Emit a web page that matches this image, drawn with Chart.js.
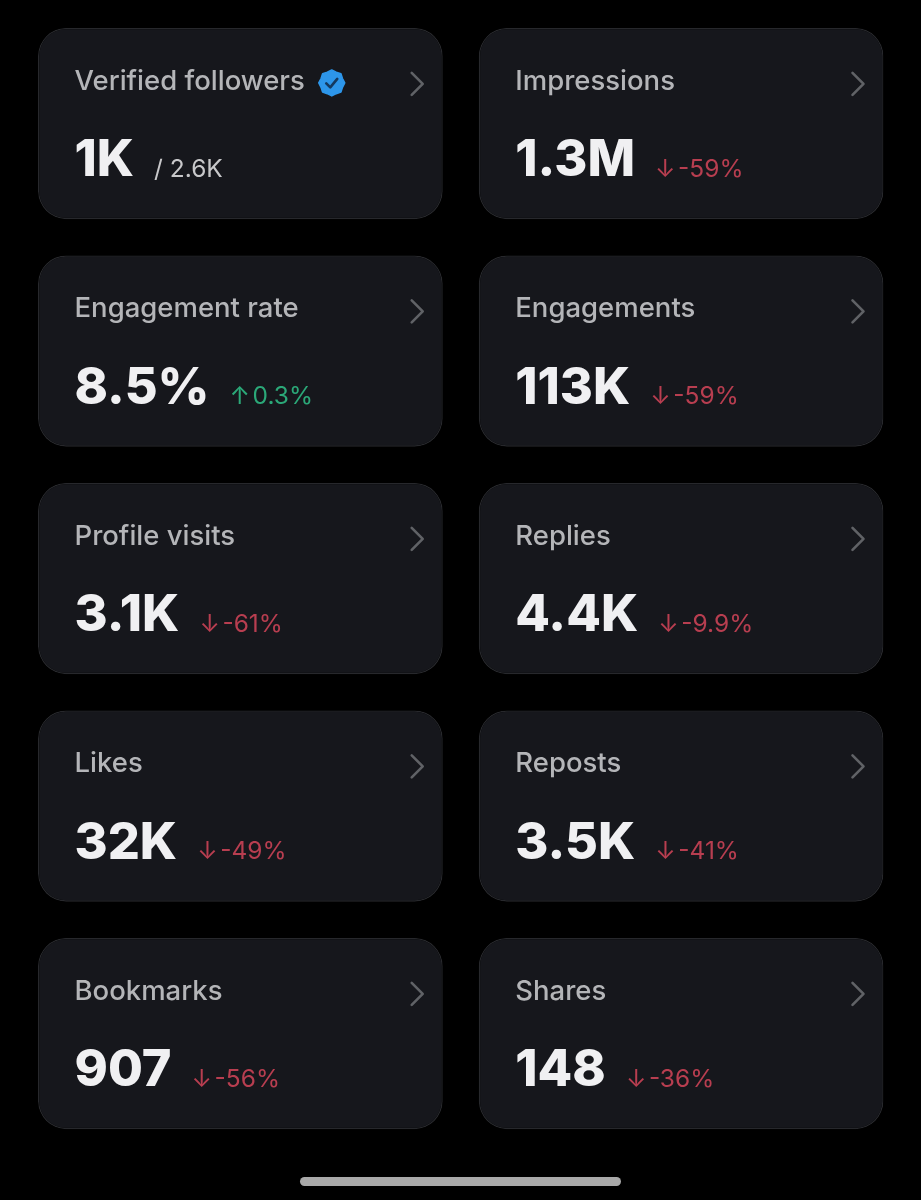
<!DOCTYPE html>
<html><head><meta charset="utf-8">
<style>html,body{margin:0;padding:0;background:#000}canvas{display:block;filter:blur(0.55px)}</style>
<script src="https://cdn.jsdelivr.net/npm/chart.js@4"></script></head>
<body><canvas id="c" width="921" height="1200"></canvas>
<script>
const rows = ['row1','row2','row3','row4','row5'];
const leftLabels = ['Verified followers','Engagement rate','Profile visits','Likes','Bookmarks'];
const leftValues = ['1K','8.5%','3.1K','32K','907'];
const leftDeltas = [null,0.3,-61,-49,-56];
const rightLabels = ['Impressions','Engagements','Replies','Reposts','Shares'];
const rightValues = ['1.3M','113K','4.4K','3.5K','148'];
const rightDeltas = [-59,-59,-9.9,-41,-36];
const verifiedTotal = '/ 2.6K';

const columnGap = 36/404;
const LABEL_FONT = '500 27.5px "Inter"', VALUE_FONT = '800 50.5px "Inter"', DELTA_FONT = '24.5px "Inter"';
const C = {card:'#16171c',border:'#27282c',label:'#b4b5b8',value:'#f0f0f2',red:'#b83e50',green:'#2ba878',chev:'#606266',sub:'#c8c8ca',badge:'#2d96ea',check:'#14395f',home:'#a9a9a9'};

function drawCard(ctx, bar, label, value, delta){
  const left = Math.min(bar.x,bar.base), right = Math.max(bar.x,bar.base), top = bar.y-bar.height/2;
  const tx = left+36.5;
  ctx.textBaseline='alphabetic'; ctx.textAlign='left';
  ctx.font=LABEL_FONT; ctx.fillStyle=C.label; ctx.fillText(label,tx,top+62);
  const lw=ctx.measureText(label).width;
  ctx.strokeStyle=C.chev; ctx.lineWidth=2.6; ctx.lineCap='round'; ctx.lineJoin='round';
  ctx.beginPath(); ctx.moveTo(right-31,top+45); ctx.lineTo(right-20,top+56); ctx.lineTo(right-31,top+67); ctx.stroke();
  ctx.font=VALUE_FONT; ctx.fillStyle=C.value; ctx.fillText(value,tx,top+148.5);
  const vw=ctx.measureText(value).width, dx=tx+vw+20;
  ctx.font=DELTA_FONT;
  if(delta===null){
    ctx.fillStyle=C.sub; ctx.fillText(verifiedTotal,dx,top+149);
    drawBadge(ctx,tx+lw+27,top+55);
  } else {
    const up=delta>0;
    ctx.fillStyle=up?C.green:C.red;
    ctx.fillText(up?'↑':'↓',dx,top+149);
    ctx.fillText(delta+'%',dx+23,top+149);
  }
}
function drawBadge(ctx,cx,cy){
  ctx.fillStyle=C.badge; ctx.strokeStyle=C.badge; ctx.lineWidth=1.5; ctx.beginPath();
  const n=8;
  for(let i=0;i<n*2;i++){const r=i%2?11.6:13,a=i*Math.PI/n; const x=cx+r*Math.cos(a),y=cy+r*Math.sin(a); i?ctx.lineTo(x,y):ctx.moveTo(x,y);}
  ctx.closePath(); ctx.fill(); ctx.stroke();
  ctx.strokeStyle=C.check; ctx.lineWidth=2.6; ctx.beginPath();
  ctx.moveTo(cx-5.5,cy+.5); ctx.lineTo(cx-1.5,cy+4.5); ctx.lineTo(cx+5.5,cy-4); ctx.stroke();
}
const cardText = {id:'cardText',afterDatasetsDraw(chart){
  const ctx=chart.ctx; ctx.save();
  rows.forEach((r,i)=>{
    drawCard(ctx,chart.getDatasetMeta(0).data[i],leftLabels[i],leftValues[i],leftDeltas[i]);
    drawCard(ctx,chart.getDatasetMeta(1).data[i],rightLabels[i],rightValues[i],rightDeltas[i]);
  });
  ctx.fillStyle=C.home; ctx.beginPath(); ctx.roundRect(300,1177,321,9,4.5); ctx.fill();
  ctx.restore();
}};
const barStyle={backgroundColor:C.card,borderColor:C.border,borderWidth:1.3,borderSkipped:false,borderRadius:28,grouped:false,categoryPercentage:191/227.25,barPercentage:1};
new Chart(document.getElementById('c'),{
  type:'bar',
  data:{labels:rows,datasets:[
    {label:'left',data:rows.map(()=>[0,1]),...barStyle},
    {label:'right',data:rows.map(()=>[1+columnGap,2+columnGap]),...barStyle}
  ]},
  options:{indexAxis:'y',responsive:false,animation:false,devicePixelRatio:1,
    layout:{padding:{left:38,right:37.5,top:9.8,bottom:52.7}},
    plugins:{legend:{display:false},tooltip:{enabled:false}},
    scales:{x:{display:false,min:0,max:2+columnGap},y:{display:false}}},
  plugins:[cardText]
});
</script></body></html>
